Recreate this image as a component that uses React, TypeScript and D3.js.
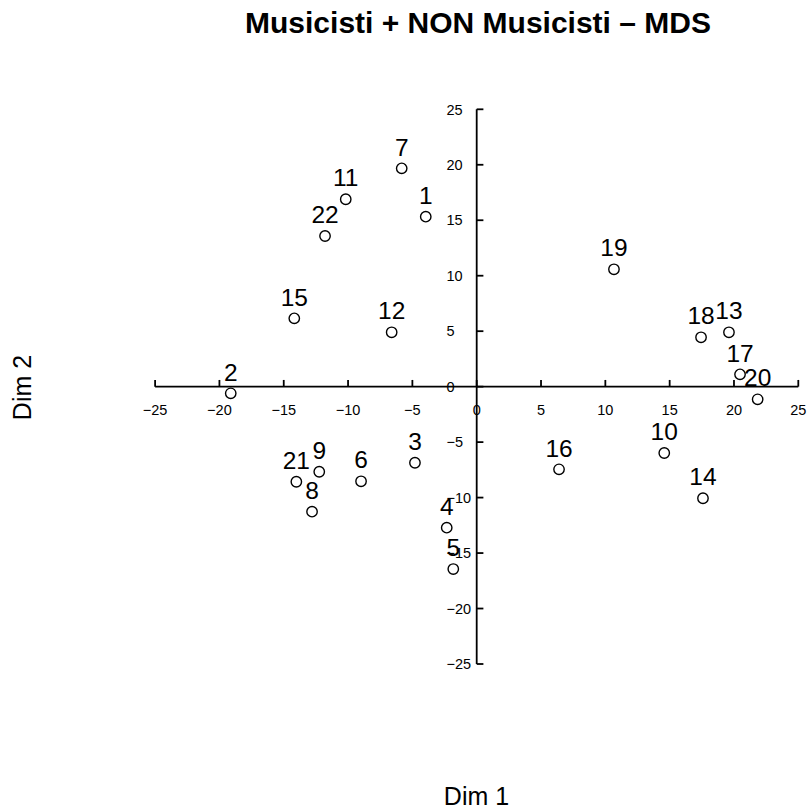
import React from "react";
import * as d3 from "d3";

const ids = ["1","2","3","4","5","6","7","8","9","10","11","12","13","14","15","16","17","18","19","20","21","22"];
const dim1 = [-3.96,-19.12,-4.80,-2.33,-1.82,-8.99,-5.83,-12.80,-12.24,14.58,-10.18,-6.61,19.61,17.59,-14.18,6.40,20.47,17.44,10.67,21.84,-14.02,-11.79];
const dim2 = [15.32,-0.60,-6.86,-12.71,-16.44,-8.53,19.68,-11.27,-7.67,-5.98,16.89,4.90,4.90,-10.06,6.16,-7.45,1.11,4.45,10.58,-1.14,-8.57,13.58];
const xTicks = [-25,-20,-15,-10,-5,0,5,10,15,20,25];
const yTicks = [25,20,15,10,5,0,-5,-10,-15,-20,-25];
const title = "Musicisti + NON Musicisti \u2013 MDS";

const W = 807, H = 809;
const FONT = "'Liberation Sans', Arial, Helvetica, sans-serif";

export default function App() {
  const x = d3.scaleLinear().domain([-25, 25]).range([155.1, 798.3]);
  const y = d3.scaleLinear().domain([-25, 25]).range([664, 109.3]);
  const x0 = x(0), y0 = y(0);
  const fmt = (v: number) => (v < 0 ? "\u2212" + Math.abs(v) : String(v));
  return (
    <svg width={W} height={H} style={{ position: "absolute", left: 0, top: 0, background: "#fff" }} fontFamily={FONT}>
      <rect width={W} height={H} fill="#fff" />
      <text x={478} y={32.7} textAnchor="middle" fontSize={30} fontWeight="bold">{title}</text>
      <text x={476.5} y={805} textAnchor="middle" fontSize={25}>Dim 1</text>
      <text transform={`translate(31,387.5) rotate(-90)`} textAnchor="middle" fontSize={25}>Dim 2</text>
      {/* x axis */}
      <line x1={x(-25)} x2={x(25)} y1={y0} y2={y0} stroke="#000" strokeWidth={1.8} />
      {xTicks.map((t) => (
        <g key={"xt" + t}>
          <line x1={x(t)} x2={x(t)} y1={y0} y2={y0 - 6.7} stroke="#000" strokeWidth={1.8} />
          <text x={x(t)} y={415.3} textAnchor="middle" fontSize={14.5}>{fmt(t)}</text>
        </g>
      ))}
      {/* y axis */}
      <line x1={x0} x2={x0} y1={y(25)} y2={y(-25)} stroke="#000" strokeWidth={1.8} />
      {yTicks.map((t) => (
        <g key={"yt" + t}>
          <line x1={x0} x2={x0 + 6.7} y1={y(t)} y2={y(t)} stroke="#000" strokeWidth={1.8} />
          <text x={446.5} y={y(t) + 5.2} textAnchor="start" fontSize={14.5}>{fmt(t)}</text>
        </g>
      ))}
      {ids.map((id, i) => (
        <g key={"p" + id}>
          <circle cx={x(dim1[i])} cy={y(dim2[i])} r={5.2} fill="none" stroke="#000" strokeWidth={1.4} />
          <text x={x(dim1[i])} y={y(dim2[i]) - 12.8} textAnchor="middle" fontSize={24.5}>{id}</text>
        </g>
      ))}
    </svg>
  );
}
